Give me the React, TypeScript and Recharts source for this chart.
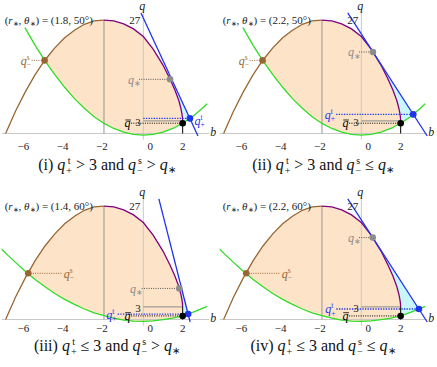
import React from "react";
import { ComposedChart, Line, Area, Scatter, XAxis, YAxis } from "recharts";

// boundary curve q(b): brown up to the top at b = -2, purple after it
const cubicB = [-7, -6.5, -6, -5.5, -5, -4.5, -4, -3.5, -3, -2.5, -2, -1.5, -1, -0.5, 0, 0.5, 1, 1.36, 1.6, 1.8, 1.9, 1.96, 1.99, 2];
const cubicQ = [0, 5.3, 9.9, 14.0, 17.5, 20.4, 22.8, 24.6, 26.0, 26.8, 27.0, 26.8, 26.1, 24.9, 23.1, 20.1, 16.3, 12.9, 10.4, 7.9, 6.2, 4.8, 3.8, 3.0];

// green parabola, theta* = 50 deg
const green50B = [-6.02, -5.5, -5, -4.5, -4, -3.5, -3, -2.5, -2, -1.5, -1, -0.5, 0, 0.5, 1, 1.5, 2, 2.5, 3, 3.25];
const green50Q = [25.2, 21.0, 17.3, 14.0, 11.0, 8.3, 6.0, 4.0, 2.4, 1.2, 0.33, -0.2, -0.38, -0.2, 0.33, 1.2, 2.45, 4.0, 6.0, 7.1];

// green parabola, theta* = 60 deg
const green60B = [-7.3, -7, -6.5, -6, -5.5, -5, -4.5, -4, -3.5, -3, -2.5, -2, -1.5, -1, -0.5, 0, 0.5, 1, 1.5, 2, 2.5, 3, 3.25];
const green60Q = [17.2, 15.8, 13.6, 11.5, 9.5, 7.8, 6.2, 4.8, 3.6, 2.5, 1.6, 0.9, 0.3, -0.15, -0.4, -0.45, -0.35, -0.05, 0.35, 0.85, 1.7, 2.65, 3.1];

// one entry per panel
const tags = ["(i)", "(ii)", "(iii)", "(iv)"];
const rStar = [1.8, 2.2, 1.4, 2.2];
const thetaStar = [50, 50, 60, 60];
const qtRel = [">", ">", "≤", "≤"];
const qsRel = [">", "≤", ">", "≤"];
const qsB = [-5.02, -5.02, -5.85, -5.85];
const qsQ = [17.4, 17.4, 11.0, 11.0];
const qStarB = [1.36, 0.59, 1.83, 0.58];
const qStarQ = [12.9, 19.4, 7.4, 19.5];
const qtB = [2.37, 2.64, 2.28, 2.93];
const qtQ = [3.6, 4.55, 1.3, 2.5];
const qBar = [2.45, 2.45, 0.85, 0.85];
const lineTopB = [-0.12, -0.69, 0.79, -0.69];
const lineEndB = [2.78, 3.35, 2.38, 3.35];
const touchB = [1.0, 0.59, 1.8, 0.58];
const LINE_TOP_Q = 28.7;
const LINE_END_Q = -0.6;
const xTicks = [-6, -4, -2, 0, 2];

const SERIF = '"Liberation Serif", "Times New Roman", serif';
const BROWN = "#996633";
const PURPLE = "#800080";
const GREEN = "#2fdc26";
const BLUE = "#1f34ee";
const GRAY = "#8c8c8c";
const AXIS = "#c8c8c8";
const ORANGE_FILL = "#fde3c8";
const CYAN_FILL = "#c8f6fb";

const W = 218;
const H = 155;

// label placement per panel
const layout = [
  { sRight: false, starEnd: -0.27, starFrom: -0.22, tRight: true, tAt: 2.6, tFrom: 0 },
  { sRight: false, starEnd: -0.17, starFrom: -0.12, tRight: false, tAt: -1.35, tFrom: -1.28 },
  { sRight: true, starEnd: -0.17, starFrom: -0.08, tRight: false, tAt: -1.38, tFrom: -1.3 },
  { sRight: true, starEnd: -0.17, starFrom: -0.12, tRight: false, tAt: -1.33, tFrom: -1.27 },
];

const pts = (bs: number[], qs: number[]) => bs.map((b, k) => ({ b, q: qs[k] }));

const at = (bs: number[], qs: number[], x: number) => {
  if (x <= bs[0]) return qs[0];
  for (let k = 1; k < bs.length; k++) {
    if (x <= bs[k]) {
      const t = (x - bs[k - 1]) / (bs[k] - bs[k - 1]);
      return qs[k - 1] + t * (qs[k] - qs[k - 1]);
    }
  }
  return qs[qs.length - 1];
};

const knots = (lo: number, hi: number, ...lists: number[][]) => {
  const s = new Set<number>([lo, hi]);
  lists.forEach((l) => l.forEach((v) => { if (v > lo && v < hi) s.add(v); }));
  return [...s].sort((a, b) => a - b);
};

const seg = (key: string, b1: number, q1: number, b2: number, q2: number, stroke: string, dash?: string, w = 1) => (
  <Line
    key={key}
    data={[{ b: b1, q: q1 }, { b: b2, q: q2 }]}
    dataKey="q"
    type="linear"
    stroke={stroke}
    strokeWidth={w}
    strokeDasharray={dash}
    dot={false}
    activeDot={false}
    isAnimationActive={false}
  />
);

const curve = (key: string, data: { b: number; q: number }[], stroke: string) => (
  <Line key={key} data={data} dataKey="q" type="linear" stroke={stroke} strokeWidth={1.3} dot={false} activeDot={false} isAnimationActive={false} />
);

const renderDot = (p: any) => <circle cx={p.cx} cy={p.cy} r={3.3} fill={p.payload.c} />;

const renderLabel = (p: any) => {
  const d = p.payload;
  const { cx, cy } = p;
  if (d.kind === "num") {
    return (
      <text x={cx} y={cy + 3.8} textAnchor="end" fontSize={11} fontFamily={SERIF} fill="#222">{d.text}</text>
    );
  }
  if (d.kind === "axis") {
    return (
      <text x={cx} y={cy + 2.5} textAnchor="middle" fontSize={12} fontStyle="italic" fontFamily={SERIF} fill="#222">{d.text}</text>
    );
  }
  if (d.kind === "note") {
    return (
      <text x={cx} y={cy + 3.5} fontSize={11} fontFamily={SERIF} fill="#222">
        <tspan>(</tspan>
        <tspan fontStyle="italic">r</tspan>
        <tspan fontSize={7} dy={2}>∗</tspan>
        <tspan dy={-2}>, </tspan>
        <tspan fontStyle="italic">θ</tspan>
        <tspan fontSize={7} dy={2}>∗</tspan>
        <tspan dy={-2}>{`) = (${d.r}, ${d.th}°)`}</tspan>
      </text>
    );
  }
  const hasScript = d.sup || d.sub;
  const w = 5.5 + (hasScript ? 4.5 : 0);
  const x0 = d.end ? cx - w : cx;
  return (
    <g fontFamily={SERIF} fill={d.c}>
      <text x={x0} y={cy + 3} fontSize={12} fontStyle="italic">q</text>
      {d.bar && <line x1={x0 + 0.8} x2={x0 + 6.5} y1={cy - 4.5} y2={cy - 4.5} stroke={d.c} strokeWidth={0.8} />}
      {d.sup && <text x={x0 + 6} y={cy - 2} fontSize={7.5}>{d.sup}</text>}
      {d.sub && <text x={x0 + 6} y={cy + 5.5} fontSize={7.5}>{d.sub}</text>}
    </g>
  );
};

const Tick = (p: any) => {
  const v = p.payload.value as number;
  const dx = v === 0 ? 7 : v < 0 ? -2 : 0;
  return (
    <text x={p.x + dx} y={p.y + 8 + p.off} textAnchor="middle" fontSize={11} fontFamily={SERIF} fill="#222">
      {v < 0 ? `−${-v}` : `${v}`}
    </text>
  );
};

function Panel({ i }: { i: number }) {
  const th50 = thetaStar[i] === 50;
  const gB = th50 ? green50B : green60B;
  const gQ = th50 ? green50Q : green60Q;
  const lB = [lineTopB[i], lineEndB[i]];
  const lQ = [LINE_TOP_Q, LINE_END_Q];
  const L = layout[i];

  const orange = knots(qsB[i], 2, cubicB, gB).map((b) => ({
    b,
    band: b === qsB[i] ? [qsQ[i], qsQ[i]] : [at(gB, gQ, b), at(cubicB, cubicQ, b)],
  }));
  const cyan = knots(touchB[i], qtB[i], gB, [2]).map((b) => ({
    b,
    band:
      b === touchB[i]
        ? [at(gB, gQ, b), at(cubicB, cubicQ, b)]
        : b === qtB[i]
        ? [qtQ[i], qtQ[i]]
        : [at(gB, gQ, b), at(lB, lQ, b)],
  }));

  const brown = pts(cubicB, cubicQ).filter((d) => d.b <= -2);
  const purple = pts(cubicB, cubicQ).filter((d) => d.b >= -2);

  const dots = [
    { b: qsB[i], q: qsQ[i], c: BROWN },
    { b: qStarB[i], q: qStarQ[i], c: GRAY },
    { b: qtB[i], q: qtQ[i], c: BLUE },
    { b: 2, q: qBar[i], c: "#000" },
  ];

  const labels = [
    { b: L.sRight ? -4.05 : -5.72, q: qsQ[i] - 0.35, c: BROWN, sup: "s", sub: "−", end: !L.sRight },
    { b: L.starEnd, q: qStarQ[i] - 0.3, c: GRAY, sub: "∗", end: true },
    { b: L.tAt, q: qtQ[i] - (L.tRight ? 0.8 : 0.35), c: BLUE, sup: "t", sub: "+", end: !L.tRight },
    { b: -0.68, q: qBar[i] - 0.3, c: "#000", bar: true, end: true },
    { b: -0.13, q: 2.8, kind: "num", text: "3" },
    { b: -0.15, q: 27, kind: "num", text: "27" },
    { b: -0.05, q: 29.9, kind: "axis", text: "q" },
    { b: 3.56, q: 0.1, kind: "axis", text: "b" },
    { b: -7.05, q: 26.8, kind: "note", r: rStar[i], th: thetaStar[i] },
  ];

  const off = i < 2 ? 0 : -4;

  return (
    <ComposedChart width={W} height={H} margin={{ top: 1.2, right: 1.9, left: 1.7, bottom: 0.2 }}>
      <XAxis
        type="number"
        dataKey="b"
        domain={[-7.2, 3.7]}
        allowDataOverflow
        ticks={xTicks}
        axisLine={false}
        tickLine={false}
        tickSize={0}
        tickMargin={2}
        height={15}
        tick={(p: any) => <Tick {...p} off={off} />}
      />
      <YAxis type="number" dataKey="q" domain={[-1.5, 31.5]} allowDataOverflow hide />
      <Area data={cyan} dataKey="band" type="linear" stroke="none" fill={CYAN_FILL} fillOpacity={1} isAnimationActive={false} />
      <Area data={orange} dataKey="band" type="linear" stroke="none" fill={ORANGE_FILL} fillOpacity={1} isAnimationActive={false} />
      {seg("xaxis", -7.2, 0, 3.35, 0, AXIS)}
      {seg("qaxis", 0, -1.5, 0, 29.3, AXIS)}
      {seg("peak", -2, 0, -2, 27, "#9a9590")}
      {seg("three", 0, 3, 2, 3, "#8a8a8a")}
      {seg("btwo", 2, 0, 2, 3, "#000")}
      {curve("green", pts(gB, gQ), GREEN)}
      {curve("brown", brown, BROWN)}
      {curve("purple", purple, PURPLE)}
      {curve("blue", pts(lB, lQ), BLUE)}
      {L.sRight
        ? seg("sdot", qsB[i], qsQ[i], -4.12, qsQ[i], BROWN, "1 1.3")
        : seg("sdot", -5.68, qsQ[i], qsB[i], qsQ[i], BROWN, "1 1.3")}
      {seg("stardot", L.starFrom, qStarQ[i], qStarB[i], qStarQ[i], "#555", "1 1.3")}
      {seg("tdot", L.tFrom, qtQ[i], qtB[i], qtQ[i], BLUE, "1.3 1.3", 1.3)}
      {seg("bardot", -0.62, qBar[i], 2, qBar[i], "#000", "1 1.3")}
      <Scatter data={dots} dataKey="q" shape={renderDot} isAnimationActive={false} />
      <Scatter data={labels} dataKey="q" shape={renderLabel} isAnimationActive={false} />
    </ComposedChart>
  );
}

const Scr = ({ sup, sub }: { sup: string; sub: string }) => (
  <span style={{ display: "inline-flex", flexDirection: "column", fontSize: 10, lineHeight: "10px", verticalAlign: "6px", marginLeft: 1 }}>
    <span>{sup}</span>
    <span>{sub}</span>
  </span>
);

function Caption({ i }: { i: number }) {
  const col = i % 2;
  const row = Math.floor(i / 2);
  return (
    <div
      style={{
        position: "absolute",
        left: col * W - (col === 0 ? 2 : 4),
        top: row === 0 ? 155 : 336,
        width: W,
        textAlign: "center",
        fontFamily: SERIF,
        fontSize: 16,
        lineHeight: "20px",
        whiteSpace: "nowrap",
        color: "#111",
      }}
    >
      {tags[i]} <i>q</i>
      <Scr sup="t" sub="+" /> {qtRel[i]} 3 and <i>q</i>
      <Scr sup="s" sub="−" /> {qsRel[i]} <i>q</i>
      <span style={{ fontSize: 10, verticalAlign: "-3px" }}>∗</span>
    </div>
  );
}

export default function App() {
  return (
    <div style={{ position: "absolute", left: 0, top: 0, width: 437, height: 367, background: "#fff", overflow: "hidden" }}>
      {[0, 1, 2, 3].map((i) => (
        <div key={i} style={{ position: "absolute", left: (i % 2) * W, top: i < 2 ? 0 : 185.9 }}>
          <Panel i={i} />
        </div>
      ))}
      {[0, 1, 2, 3].map((i) => (
        <Caption key={"c" + i} i={i} />
      ))}
    </div>
  );
}
